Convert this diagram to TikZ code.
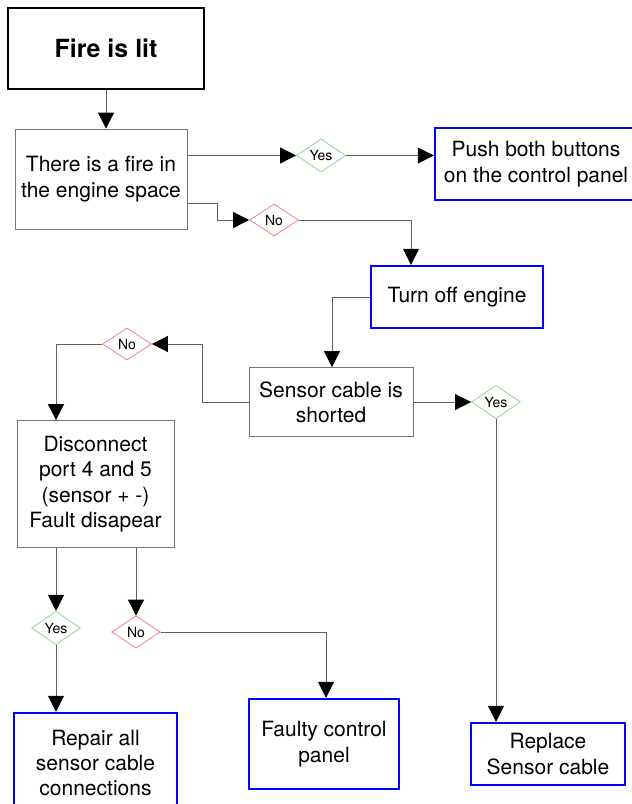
\documentclass[tikz,border=0pt]{standalone}
\usepackage{fontspec}
\setmainfont{TeX Gyre Heros}
\usetikzlibrary{shapes.geometric,arrows.meta}

\definecolor{yesgreen}{RGB}{140,215,140}
\definecolor{nored}{RGB}{240,130,130}
\definecolor{wiregray}{RGB}{95,95,95}

\tikzset{
	stepbox/.style={draw=black!55, line width=0.8pt, rectangle, align=center, inner sep=0pt, font=\fontsize{21}{25.3}\selectfont},
	endbox/.style={stepbox, draw=blue, line width=2.4pt},
	startbox/.style={stepbox, draw=black, line width=2.4pt, font=\fontsize{25}{30}\selectfont\bfseries},
	yesbox/.style={diamond, draw=yesgreen, line width=0.8pt, inner sep=0pt, minimum width=49, minimum height=32, font=\fontsize{14}{14}\selectfont},
	nobox/.style={yesbox, draw=nored},
	wire/.style={draw=wiregray, line width=0.8pt, -{Triangle[length=16pt, width=16pt, color=black]}}
}

\begin{document}
\begin{tikzpicture}[x=1pt, y=-1pt]
				
				\useasboundingbox (0,0) rectangle (632,804);
				
				\node[startbox, minimum width=196, minimum height=81] (Fire) at (106,48.5) {Fire is lit};
				\node[stepbox, minimum width=172, minimum height=100] (FireIn) at (101,179) {There is a fire in\\the engine space};
				\node[endbox, minimum width=202, minimum height=72] (Push) at (536,164) {Push both buttons\\on the control panel};
				\node[endbox, minimum width=172, minimum height=62] (TurnOff) at (457,297) {Turn off engine};
				\node[stepbox, minimum width=164, minimum height=69] (Shorted) at (331,402) {Sensor cable is\\shorted};
				\node[stepbox, minimum width=157, minimum height=127] (Disconnect) at (95.5,484) {Disconnect\\port 4 and 5\\(sensor + -)\\Fault disapear};
				\node[endbox, minimum width=163, minimum height=100] (Repair) at (95.5,763) {Repair all\\sensor cable\\connections};
				\node[endbox, minimum width=150, minimum height=90] (Faulty) at (324,744) {Faulty control\\panel};
				\node[endbox, minimum width=154, minimum height=62] (Replace) at (548,754) {Replace\\Sensor cable};
				
				\node[yesbox] (FireYes) at (321,155.5) {Yes};
				\node[nobox] (FireNo) at (274,220) {No};
				\node[nobox] (ShortNo) at (127,344) {No};
				\node[yesbox] (ShortYes) at (496,402) {Yes};
				\node[yesbox] (GoneYes) at (56,628) {Yes};
				\node[nobox] (GoneNo) at (136,632) {No};
				
				\coordinate (FireOut) at (187,203);
				
				\draw[wire] (Fire.south) -- (Fire.south |- FireIn.north);
				\draw[wire] (FireYes.west -| FireIn.east) -- (FireYes.west);
				\draw[wire] (FireYes.east) -- (FireYes.east -| Push.west);
				\draw[wire] (FireOut) -- ++(30,0) |- (FireNo.west);
				\draw[wire] (FireNo.east) -| ([xshift=-46pt]TurnOff.north);
				\draw[wire] (TurnOff.west) -| ([xshift=1pt]Shorted.north);
				\draw[wire] (Shorted.west) -- ++(-46,0) |- (ShortNo.east);
				\draw[wire] (ShortNo.west) -| ([xshift=-39.5pt]Disconnect.north);
				\draw[wire] (Shorted.east) -- (ShortYes.west);
				\draw[wire] (ShortYes.south) -- (ShortYes.south |- Replace.north);
				\draw[wire] (GoneYes.north |- Disconnect.south) -- (GoneYes.north);
				\draw[wire] (GoneYes.south) -- (GoneYes.south |- Repair.north);
				\draw[wire] (GoneNo.north |- Disconnect.south) -- (GoneNo.north);
				\draw[wire] (GoneNo.east) -| ([xshift=2pt]Faulty.north);
				
			\end{tikzpicture}
\end{document}
